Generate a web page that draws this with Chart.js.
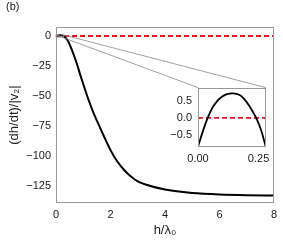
<!DOCTYPE html>
<html>
<head>
<meta charset="utf-8">
<script src="https://cdn.jsdelivr.net/npm/chart.js@4"></script>
<style>
  body { margin: 0; background: #fff; }
  #wrap { position: relative; width: 283px; height: 245px; }
  #mainGraph { position: absolute; left: 0; top: 0; }
  #insetGraph { position: absolute; left: 150px; top: 75px; }
</style>
</head>
<body>
<div id="wrap">
  <canvas id="mainGraph" width="283" height="245"></canvas>
  <canvas id="insetGraph" width="125" height="95"></canvas>
</div>
<script>
// ---- data ----
var hMain = [0, 0.15, 0.3, 0.45, 0.6, 0.75, 0.9, 1.05, 1.2, 1.35, 1.5, 1.75, 2.0, 2.25, 2.5, 2.75, 3.0, 3.5, 4.0, 4.5, 5.0, 6.0, 7.0, 8.0];
var rateMain = [0, 0.8, -0.5, -4.5, -12.5, -22, -33, -43.5, -53.5, -62.5, -70.5, -83, -95, -104.5, -111.5, -117, -121, -125, -127.7, -129.5, -130.7, -131.9, -132.5, -132.8];

var hInset = [0, 0.02, 0.04, 0.06, 0.08, 0.1, 0.12, 0.145, 0.17, 0.19, 0.21, 0.23, 0.24, 0.26, 0.28];
var rateInset = [-0.85, -0.4, 0, 0.3, 0.5, 0.63, 0.7, 0.72, 0.68, 0.56, 0.37, 0.13, 0, -0.35, -0.85];

var zeroLine = [0, 0];
var mainRange = [0, 8];
var insetRangeX = [0, 0.28];
var insetRangeY = [-0.86, 0.89];

var mainTicksX = [0, 2, 4, 6, 8];
var mainTicksY = [0, -25, -50, -75, -100, -125];
var insetTicksX = [0, 0.25];
var insetTicksY = [0.5, 0, -0.5];

var FONT = "'Liberation Sans', Arial, sans-serif";
var TXT = '#222';
var FRAME = '#999';

function pts(xs, ys){
    let out = [];
    for (let i = 0; i < xs.length; i++) out.push({x: xs[i], y: ys[i]});
    return out;
}
function minus(s){ return String(s).replace('-', '\u2212'); }

var frameBox = {
    id: 'frameBox',
    afterDatasetsDraw(chart){
        const a = chart.chartArea, ctx = chart.ctx;
        ctx.save();
        ctx.strokeStyle = FRAME;
        ctx.lineWidth = 1;
        ctx.strokeRect(Math.round(a.left) + 0.5, Math.round(a.top) + 0.5,
                       Math.round(a.right - a.left) - 1, Math.round(a.bottom - a.top) - 1);
        ctx.restore();
    }
};

//---- inset ----
var inset = new Chart(document.getElementById('insetGraph'),
{
    type: 'line',
    data: {
        datasets: [
            {
                data: pts(hInset, rateInset),
                borderColor: '#000',
                borderWidth: 1.8,
                pointRadius: 0,
                tension: 0.4
            },
            {
                data: pts(insetRangeX, zeroLine),
                borderColor: '#e8141b',
                borderWidth: 1.8,
                borderDash: [5, 3],
                pointRadius: 0
            }
        ]
    },
    options: {
        responsive: false,
        animation: false,
        layout: { padding: { left: 0, top: 9, right: 7, bottom: 0 } },
        plugins: { legend: { display: false }, tooltip: { enabled: false } },
        scales: {
            x: {
                type: 'linear', min: insetRangeX[0], max: insetRangeX[1],
                grid: { display: false, drawTicks: false }, border: { display: false },
                afterBuildTicks: s => { s.ticks = insetTicksX.map(v => ({value: v})); },
                afterFit: s => { s.height = 23; },
                ticks: { padding: 5, color: TXT, font: { family: FONT, size: 11 }, maxRotation: 0,
                         callback: v => Number(v).toFixed(2) }
            },
            y: {
                min: insetRangeY[0], max: insetRangeY[1],
                grid: { display: false, drawTicks: false }, border: { display: false },
                afterBuildTicks: s => { s.ticks = insetTicksY.map(v => ({value: v})); },
                afterFit: s => { s.width = 48; },
                ticks: { padding: 6, color: TXT, font: { family: FONT, size: 11 },
                         callback: v => minus(Number(v).toFixed(1)) }
            }
        }
    },
    plugins: [frameBox]
});

//---- zoom marks: link the tiny region in the main plot to the inset ----
var insetLinks = {
    id: 'insetLinks',
    afterDatasetsDraw(chart){
        const sx = chart.scales.x, sy = chart.scales.y, ctx = chart.ctx;
        const cv = document.getElementById('insetGraph');
        const ia = inset.chartArea;
        const x0 = sx.getPixelForValue(insetRangeX[0]), x1 = sx.getPixelForValue(insetRangeX[1]);
        const y0 = sy.getPixelForValue(insetRangeY[1]), y1 = sy.getPixelForValue(insetRangeY[0]);
        const tl = cv.offsetLeft + ia.left, tr = cv.offsetLeft + ia.right, tt = cv.offsetTop + ia.top;
        ctx.save();
        ctx.strokeStyle = '#888';
        ctx.lineWidth = 0.8;
        ctx.strokeRect(x0, y0, x1 - x0, y1 - y0);
        ctx.beginPath();
        ctx.moveTo(x0, y0); ctx.lineTo(tl, tt);
        ctx.moveTo(x1, y0); ctx.lineTo(tr, tt);
        ctx.stroke();
        ctx.fillStyle = TXT;
        ctx.font = '11px ' + FONT;
        ctx.textBaseline = 'middle';
        ctx.fillText('(b)', 6, 7);
        ctx.restore();
    }
};

//---- main plot ----
var main = new Chart(document.getElementById('mainGraph'),
{
    type: 'line',
    data: {
        datasets: [
            {
                data: pts(hMain, rateMain),
                borderColor: '#000',
                borderWidth: 2,
                pointRadius: 0,
                cubicInterpolationMode: 'monotone'
            },
            {
                data: pts(mainRange, zeroLine),
                borderColor: '#e8141b',
                borderWidth: 1.8,
                borderDash: [5, 3],
                pointRadius: 0
            }
        ]
    },
    options: {
        responsive: false,
        animation: false,
        layout: { padding: { left: 0, top: 27, right: 9, bottom: 0 } },
        plugins: { legend: { display: false }, tooltip: { enabled: false } },
        scales: {
            x: {
                type: 'linear', min: mainRange[0], max: mainRange[1],
                grid: { display: false, drawTicks: false }, border: { display: false },
                afterBuildTicks: s => { s.ticks = mainTicksX.map(v => ({value: v})); },
                afterFit: s => { s.height = 42; },
                ticks: { padding: 5, color: TXT, font: { family: FONT, size: 11 }, maxRotation: 0 },
                title: { display: true, text: 'h/\u03bb\u2080', color: TXT,
                         font: { family: FONT, size: 13 }, padding: { top: 0, bottom: 7 } }
            },
            y: {
                min: -139, max: 7.5,
                grid: { display: false, drawTicks: false }, border: { display: false },
                afterBuildTicks: s => { s.ticks = mainTicksY.map(v => ({value: v})); },
                afterFit: s => { s.width = 56; },
                ticks: { padding: 5, color: TXT, font: { family: FONT, size: 11 },
                         callback: v => minus(v) },
                title: { display: true, text: '(dh/dt)/|v\u2082|', color: TXT,
                         font: { family: FONT, size: 13 }, padding: { top: 7, bottom: 0 } }
            }
        }
    },
    plugins: [frameBox, insetLinks]
});
</script>
</body>
</html>
